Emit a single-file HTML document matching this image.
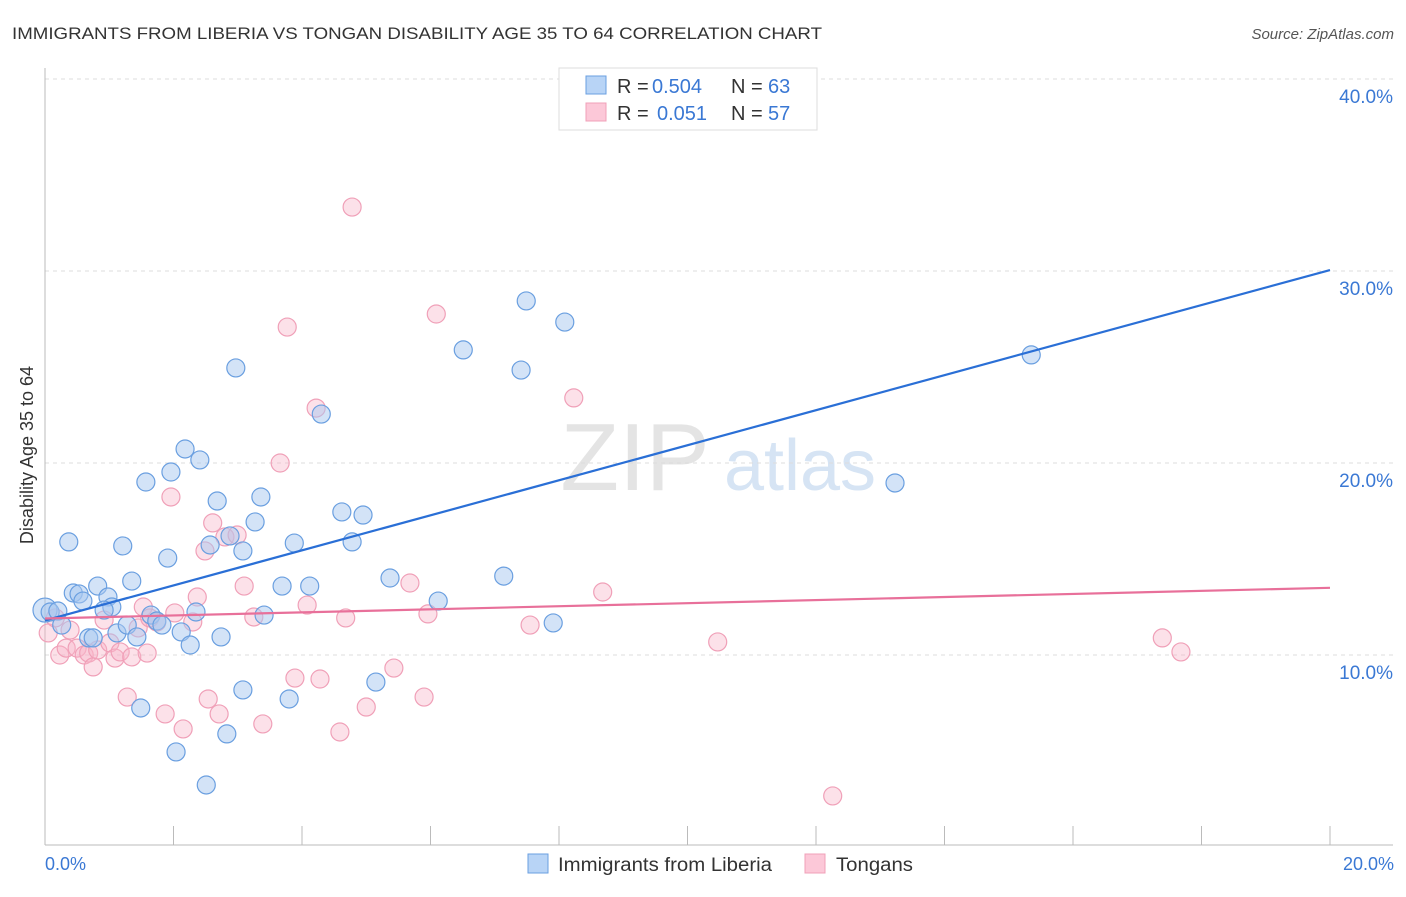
<!DOCTYPE html>
<html><head><meta charset="utf-8"><style>
body{margin:0;background:#fff;font-family:"Liberation Sans",sans-serif;}
svg text{font-family:"Liberation Sans",sans-serif;}
</style></head><body>
<svg id="chart" width="1406" height="892">
<text x="12" y="39" font-size="17" fill="#333" textLength="810" lengthAdjust="spacingAndGlyphs">IMMIGRANTS FROM LIBERIA VS TONGAN DISABILITY AGE 35 TO 64 CORRELATION CHART</text>
<text x="1394" y="39" font-size="15" fill="#555" font-style="italic" text-anchor="end">Source: ZipAtlas.com</text>
<text x="635" y="490" font-size="96" fill="#e4e4e4" font-family="Liberation Serif" text-anchor="middle">ZIP</text>
<text x="800" y="490" font-size="72" fill="#d6e4f4" text-anchor="middle">atlas</text>
<g id="grid"></g><g id="axes"></g><g id="pts"></g><g id="lines"></g>
<text transform="translate(33,455) rotate(-90)" font-size="18" fill="#333" text-anchor="middle">Disability Age 35 to 64</text>
<text x="45" y="870" font-size="18" fill="#3a78d4">0.0%</text>
<text x="1394" y="870" font-size="18" fill="#3a78d4" text-anchor="end">20.0%</text>
<g>
<rect x="559" y="68" width="258" height="62" fill="#fff" stroke="#ddd"/>
<rect x="586" y="76" width="20" height="18" fill="#b8d4f6" stroke="#6a9fe0"/>
<rect x="586" y="103" width="20" height="18" fill="#fcc8d8" stroke="#f0a0b8"/>
<text x="617" y="93" font-size="20" fill="#333">R =</text>
<text x="652" y="93" font-size="20" fill="#3a78d4">0.504</text>
<text x="731" y="93" font-size="20" fill="#333">N =</text>
<text x="768" y="93" font-size="20" fill="#3a78d4">63</text>
<text x="617" y="120" font-size="20" fill="#333">R =</text>
<text x="657" y="120" font-size="20" fill="#3a78d4">0.051</text>
<text x="731" y="120" font-size="20" fill="#333">N =</text>
<text x="768" y="120" font-size="20" fill="#3a78d4">57</text>
</g>
<g>
<rect x="528" y="854" width="20" height="19" fill="#b8d4f6" stroke="#6a9fe0"/>
<text x="558" y="871" font-size="19" fill="#333" textLength="214" lengthAdjust="spacingAndGlyphs">Immigrants from Liberia</text>
<rect x="805" y="854" width="20" height="19" fill="#fcc8d8" stroke="#f0a0b8"/>
<text x="836" y="871" font-size="19" fill="#333" textLength="77" lengthAdjust="spacingAndGlyphs">Tongans</text>
</g>
</svg>
<script>
const yTicks=[10,20,30,40];
const yTickLabels=["10.0%","20.0%","30.0%","40.0%"];
const xTicks=[0,2,4,6,8,10,12,14,16,18,20];
const blueX=[0,.08,.2,.26,.37,.44,.53,.59,.68,.75,.82,.98,1.04,.92,1.12,1.21,1.28,1.35,1.43,1.49,1.57,1.65,1.74,1.82,1.91,1.96,2.04,2.12,2.18,2.26,2.35,2.41,2.51,2.57,2.68,2.74,2.83,2.88,2.97,3.08,3.08,3.27,3.36,3.41,3.69,3.8,3.88,4.12,4.3,4.62,4.78,4.95,5.15,5.37,6.12,6.51,7.14,7.41,7.49,7.91,8.09,13.23,15.35];
const blueY=[12.34,12.24,12.29,11.56,15.89,13.23,13.18,12.81,10.89,10.89,13.59,13.02,12.5,12.34,11.15,15.68,11.56,13.85,10.94,7.24,19.01,12.08,11.77,11.56,15.05,19.53,4.95,11.2,20.73,10.52,12.24,20.16,3.23,15.73,18.02,10.94,5.89,16.2,24.95,8.18,15.42,16.93,18.23,12.08,13.59,7.71,15.83,13.59,22.55,17.45,15.89,17.29,8.59,14.01,12.81,25.89,14.11,24.84,28.44,11.67,27.34,18.96,25.63];
const pinkX=[.05,.16,.23,.33,.39,.5,.61,.68,.75,.82,.92,1.01,1.09,1.17,1.28,1.35,1.45,1.53,1.59,1.63,1.74,1.87,1.96,2.02,2.15,2.3,2.37,2.49,2.54,2.61,2.71,2.8,2.99,3.1,3.25,3.39,3.66,3.77,3.89,4.08,4.22,4.28,4.68,4.59,4.78,5.0,5.43,5.68,5.9,5.96,6.09,7.55,8.23,8.68,10.47,12.26,17.39,17.68];
const pinkY=[11.15,11.93,10,10.36,11.3,10.36,10,10.1,9.38,10.26,11.82,10.63,9.84,10.16,7.81,9.9,11.41,12.5,10.1,11.93,11.72,6.93,18.23,12.19,6.15,11.72,13.02,15.42,7.71,16.88,6.93,16.15,16.25,13.59,11.98,6.41,20,27.08,8.8,12.6,22.86,8.75,11.93,5.99,33.33,7.29,9.32,13.75,7.81,12.14,27.76,11.56,23.39,13.28,10.68,2.66,10.89,10.16];
const blueTrend=[11.8,30.05];
const pinkTrend=[11.9,13.5];
const NS="http://www.w3.org/2000/svg";
const sx=v=>45+v*64.25, sy=v=>847-v*19.2;
function mk(tag,attrs,parent){const e=document.createElementNS(NS,tag);for(const k in attrs)e.setAttribute(k,attrs[k]);document.getElementById(parent).appendChild(e);return e;}
yTicks.forEach((t,i)=>{
 const l=mk('line',{x1:45,x2:1393,y1:sy(t),y2:sy(t),stroke:'#ddd','stroke-dasharray':'4,4'},'grid');
 
 
 const tx=mk('text',{x:1393,y:sy(t)+24,'font-size':19,fill:'#3a78d4','text-anchor':'end'},'grid');
 tx.textContent=yTickLabels[i];
 
 
});
const ax=mk('line',{x1:45,x2:45,y1:68,y2:845,stroke:'#bbb'},'axes');


const bx=mk('line',{x1:45,x2:1393,y1:845,y2:845,stroke:'#bbb'},'axes');


xTicks.forEach(t=>{
 const l=mk('line',{x1:sx(t),x2:sx(t),y1:826,y2:845,stroke:'#bbb'},'axes');
 
 
});
function pts(X,Y,fill,stroke,name){X.forEach((x,i)=>{
 const c=mk('circle',{cx:sx(x),cy:sy(Y[i]),r:i===0&&name==='blue-point'?12:9,fill:fill,stroke:stroke,'stroke-width':1.2},'pts');
 
 
});}
pts(pinkX,pinkY,'rgba(248,180,200,0.4)','#f0a0b8','pink-point');
pts(blueX,blueY,'rgba(168,200,240,0.5)','#6a9fe0','blue-point');
const bl=mk('line',{x1:sx(0),x2:sx(20),y1:sy(blueTrend[0]),y2:sy(blueTrend[1]),stroke:'#2a6fd6','stroke-width':2.2},'lines');


const pl=mk('line',{x1:sx(0),x2:sx(20),y1:sy(pinkTrend[0]),y2:sy(pinkTrend[1]),stroke:'#e8709a','stroke-width':2.2},'lines');


</script>
</body></html>
